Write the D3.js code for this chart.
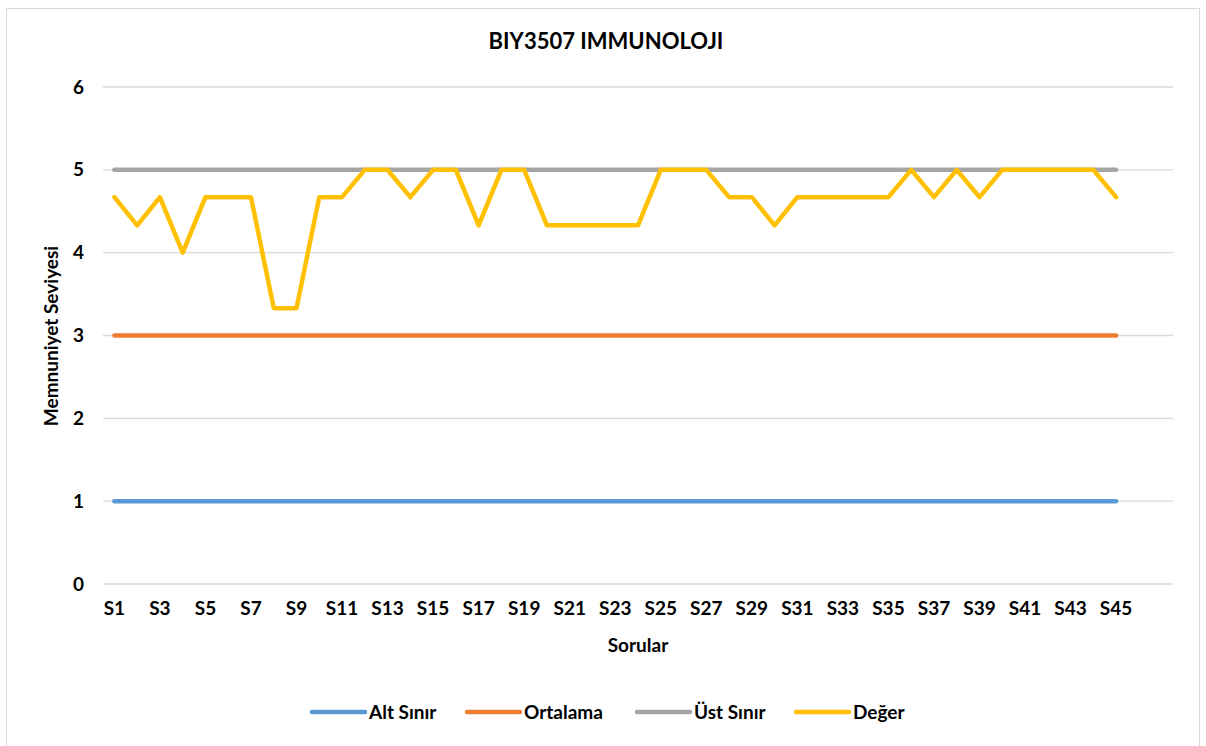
<!DOCTYPE html>
<html>
<head>
<meta charset="utf-8">
<script src="https://cdn.jsdelivr.net/npm/d3@7"></script>
<style>
  body { margin: 0; background: #fff; }
  svg text { font-family: Lato, "Open Sans", sans-serif; font-weight: bold; fill: #000; }
</style>
</head>
<body>
<div id="chart"></div>
<script>
(function () {
  // categories S1..S45, two more empty slots sit at the end of the axis
  var categories = d3.range(1, 46).map(function (i) { return 'S' + i; });
  var emptySlots = ['', ''];
  var yTicks = [0, 1, 2, 3, 4, 5, 6];

  var altSinir = categories.map(function () { return 1; });
  var ortalama = categories.map(function () { return 3; });
  var ustSinir = categories.map(function () { return 5; });
  var deger = [
    4.67, 4.33, 4.67, 4.00, 4.67, 4.67, 4.67, 3.33, 3.33, 4.67,
    4.67, 5.00, 5.00, 4.67, 5.00, 5.00, 4.33, 5.00, 5.00, 4.33,
    4.33, 4.33, 4.33, 4.33, 5.00, 5.00, 5.00, 4.67, 4.67, 4.33,
    4.67, 4.67, 4.67, 4.67, 4.67, 5.00, 4.67, 5.00, 4.67, 5.00,
    5.00, 5.00, 5.00, 5.00, 4.67
  ];

  var seriesNames = ['Alt Sınır', 'Ortalama', 'Üst Sınır', 'Değer'];
  var seriesColors = ['#5b9bd5', '#ed7d31', '#a5a5a5', '#ffc000'];
  var seriesValues = [altSinir, ortalama, ustSinir, deger];

  var width = 1206;
  var height = 746;
  var plot = {left: 103, right: 1173, top: 87, bottom: 584};

  var svg = d3.select('#chart').append('svg')
      .attr('width', width)
      .attr('height', height);

  // chart frame
  svg.append('rect')
      .attr('x', 6.5).attr('y', 8.5)
      .attr('width', 1193).attr('height', 760)
      .attr('fill', '#fff')
      .attr('stroke', '#d9d9d9');

  var slots = categories.concat(emptySlots);
  var x = d3.scaleBand()
      .domain(d3.range(slots.length))
      .range([plot.left, plot.right]);
  var y = d3.scaleLinear()
      .domain([0, 6])
      .range([plot.bottom, plot.top]);

  function cx(i) {
    return x(i) + x.bandwidth() / 2;
  }

  // horizontal gridlines
  svg.append('g')
      .selectAll('line')
      .data(yTicks)
      .enter().append('line')
      .attr('x1', plot.left).attr('x2', plot.right)
      .attr('y1', function (d) { return y(d); })
      .attr('y2', function (d) { return y(d); })
      .attr('stroke', '#d9d9d9')
      .attr('stroke-width', 1.3);

  // y axis labels
  var yAxis = d3.axisLeft(y)
      .tickValues(yTicks)
      .tickFormat(d3.format('d'))
      .tickSize(0)
      .tickPadding(19);
  var gy = svg.append('g')
      .attr('transform', 'translate(' + plot.left + ',0)')
      .call(yAxis);
  gy.select('.domain').remove();
  gy.selectAll('text').style('font-size', '19px');

  // x axis labels (every other category)
  var xAxis = d3.axisBottom(x)
      .tickSize(0)
      .tickPadding(18)
      .tickValues(d3.range(0, categories.length, 2))
      .tickFormat(function (i) { return slots[i]; });
  var gx = svg.append('g')
      .attr('transform', 'translate(0,' + plot.bottom + ')')
      .call(xAxis);
  gx.select('.domain').remove();
  gx.selectAll('text').style('font-size', '19px');

  // series lines
  var line = d3.line()
      .x(function (d, i) { return cx(i); })
      .y(function (d) { return y(d); });

  svg.append('g')
      .selectAll('path')
      .data(seriesValues)
      .enter().append('path')
      .attr('d', line)
      .attr('fill', 'none')
      .attr('stroke', function (d, i) { return seriesColors[i]; })
      .attr('stroke-width', 4.5)
      .attr('stroke-linecap', 'round')
      .attr('stroke-linejoin', 'round');

  // titles
  svg.append('text')
      .attr('x', 606).attr('y', 49)
      .attr('text-anchor', 'middle')
      .style('font-size', '22px')
      .text('BIY3507 IMMUNOLOJI');

  svg.append('text')
      .attr('x', 638).attr('y', 652)
      .attr('text-anchor', 'middle')
      .style('font-size', '19px')
      .text('Sorular');

  svg.append('text')
      .attr('transform', 'translate(58,' + 336 + ') rotate(-90)')
      .attr('text-anchor', 'middle')
      .style('font-size', '19px')
      .text('Memnuniyet Seviyesi');

  // legend
  var legendX = [312, 467, 637, 796];
  var legend = svg.append('g')
      .selectAll('g')
      .data(seriesNames)
      .enter().append('g')
      .attr('transform', function (d, i) { return 'translate(' + legendX[i] + ',712)'; });

  legend.append('line')
      .attr('x1', 0).attr('x2', 53)
      .attr('stroke', function (d, i) { return seriesColors[i]; })
      .attr('stroke-width', 4.5)
      .attr('stroke-linecap', 'round');

  legend.append('text')
      .attr('x', 57).attr('y', 7)
      .style('font-size', '19px')
      .text(function (d) { return d; });
}());
</script>
</body>
</html>
